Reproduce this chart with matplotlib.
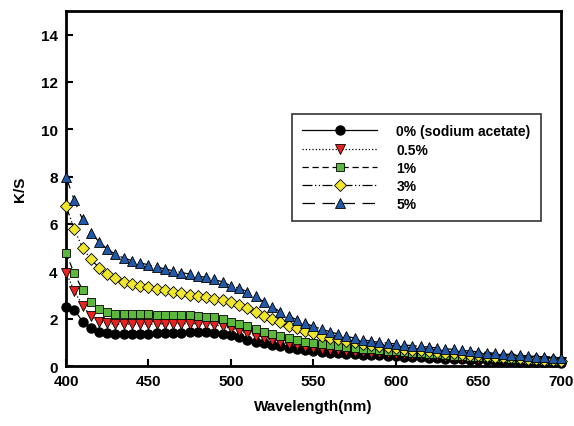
import numpy as np
import matplotlib
matplotlib.use('Agg')
import matplotlib.pyplot as plt

plt.rcParams['font.family'] = ['Liberation Sans', 'DejaVu Sans']
plt.rcParams['font.weight'] = 'bold'

wavelength = np.arange(400, 701, 5)

# K/S values read every 5 nm from 400 to 700 nm
ks_0 = [2.50, 2.38, 1.88, 1.60, 1.45, 1.39, 1.35, 1.35, 1.35, 1.36,
        1.37, 1.38, 1.39, 1.40, 1.41, 1.42, 1.43, 1.43, 1.41, 1.37,
        1.31, 1.21, 1.11, 1.03, 0.96, 0.89, 0.83, 0.77, 0.72, 0.68,
        0.63, 0.60, 0.57, 0.55, 0.52, 0.50, 0.48, 0.46, 0.45, 0.43,
        0.41, 0.39, 0.37, 0.36, 0.34, 0.32, 0.31, 0.29, 0.28, 0.27,
        0.25, 0.24, 0.23, 0.22, 0.20, 0.19, 0.18, 0.17, 0.16, 0.15, 0.14]
ks_05 = [3.95, 3.18, 2.55, 2.12, 1.88, 1.80, 1.77, 1.77, 1.77, 1.77,
         1.77, 1.77, 1.78, 1.78, 1.79, 1.79, 1.79, 1.78, 1.74, 1.67,
         1.59, 1.49, 1.39, 1.28, 1.18, 1.10, 1.01, 0.94, 0.87, 0.82,
         0.76, 0.72, 0.69, 0.66, 0.63, 0.61, 0.59, 0.57, 0.55, 0.53,
         0.51, 0.49, 0.47, 0.45, 0.43, 0.41, 0.39, 0.37, 0.35, 0.33,
         0.31, 0.30, 0.28, 0.27, 0.25, 0.24, 0.22, 0.21, 0.20, 0.18, 0.17]
ks_1 = [4.77, 3.91, 3.22, 2.69, 2.41, 2.27, 2.19, 2.18, 2.18, 2.18,
        2.18, 2.17, 2.17, 2.16, 2.15, 2.14, 2.12, 2.09, 2.05, 1.97,
        1.87, 1.77, 1.67, 1.56, 1.45, 1.35, 1.25, 1.17, 1.10, 1.03,
        0.97, 0.91, 0.87, 0.83, 0.79, 0.76, 0.73, 0.70, 0.68, 0.65,
        0.62, 0.59, 0.56, 0.54, 0.51, 0.49, 0.46, 0.44, 0.42, 0.40,
        0.38, 0.36, 0.34, 0.32, 0.30, 0.28, 0.26, 0.25, 0.23, 0.21, 0.20]
ks_3 = [6.76, 5.78, 5.00, 4.51, 4.16, 3.88, 3.70, 3.56, 3.46, 3.39,
        3.32, 3.26, 3.20, 3.14, 3.08, 3.02, 2.96, 2.90, 2.84, 2.77,
        2.69, 2.57, 2.43, 2.29, 2.12, 1.98, 1.84, 1.70, 1.59, 1.48,
        1.38, 1.28, 1.19, 1.13, 1.05, 1.00, 0.94, 0.89, 0.84, 0.80,
        0.76, 0.72, 0.69, 0.66, 0.63, 0.60, 0.57, 0.54, 0.51, 0.48,
        0.45, 0.43, 0.40, 0.38, 0.36, 0.33, 0.31, 0.29, 0.27, 0.25, 0.23]
ks_5 = [8.00, 7.00, 6.20, 5.64, 5.25, 4.94, 4.72, 4.56, 4.45, 4.36,
        4.27, 4.18, 4.10, 4.02, 3.95, 3.88, 3.80, 3.74, 3.66, 3.55,
        3.39, 3.28, 3.14, 2.94, 2.71, 2.50, 2.29, 2.12, 1.95, 1.81,
        1.67, 1.56, 1.45, 1.35, 1.25, 1.18, 1.11, 1.05, 1.00, 0.97,
        0.93, 0.89, 0.86, 0.83, 0.80, 0.76, 0.73, 0.70, 0.66, 0.63,
        0.60, 0.57, 0.54, 0.51, 0.48, 0.45, 0.42, 0.40, 0.37, 0.35, 0.32]

labels = ['0% (sodium acetate)', '0.5%', '1%', '3%', '5%']

fig = plt.figure(figsize=(5.74, 4.27), dpi=100)
ax = fig.add_axes([0.115, 0.1405, 0.862, 0.8315])

ms = 6.5
ax.plot(wavelength, ks_0, '-', color='black', lw=0.9, marker='o', ms=ms,
        mfc='black', mec='black', label=labels[0], clip_on=False)
ax.plot(wavelength, ks_05, ':', color='black', lw=0.9, marker='v', ms=ms,
        mfc='#e8231f', mec='black', mew=0.6, label=labels[1], clip_on=False)
ax.plot(wavelength, ks_1, '--', color='black', lw=0.9, marker='s', ms=ms - 0.5,
        mfc='#5cb83a', mec='black', mew=0.6, label=labels[2], dashes=(5, 3),
        clip_on=False)
ax.plot(wavelength, ks_3, color='black', lw=0.9, marker='D', ms=ms - 0.7,
        mfc='#f0e62c', mec='black', mew=0.6, label=labels[3],
        dashes=(8, 2, 1, 2, 1, 2), clip_on=False)
ax.plot(wavelength, ks_5, color='black', lw=0.9, marker='^', ms=ms,
        mfc='#2258a8', mec='black', mew=0.6, label=labels[4], dashes=(10, 6),
        clip_on=False)

ax.set_xlim(400, 700)
ax.set_ylim(0, 15)
ax.set_xticks(np.arange(400, 701, 50))
ax.set_yticks(np.arange(0, 15, 2))
ax.tick_params(direction='in', length=5, width=1.5, labelsize=11, pad=6)
for lbl in ax.get_xticklabels() + ax.get_yticklabels():
    lbl.set_fontweight('bold')
for sp in ax.spines.values():
    sp.set_linewidth(2)
    sp.set_zorder(1)

ax.set_xlabel('Wavelength(nm)', fontsize=11, fontweight='bold', labelpad=8)
ax.set_ylabel('K/S', fontsize=11, fontweight='bold', labelpad=10)

leg = ax.legend(loc='upper left', bbox_to_anchor=(0.456, 0.71), frameon=True,
                fancybox=False, edgecolor='black', handlelength=5.4,
                prop={'weight': 'bold', 'size': 10}, labelspacing=0.3,
                borderpad=0.75, handletextpad=1.4, borderaxespad=0)
leg.get_frame().set_linewidth(1.2)

fig.savefig('out.png', dpi=100)
